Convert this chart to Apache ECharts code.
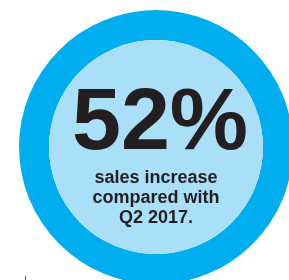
<!DOCTYPE html>
<html>
<head>
<meta charset="utf-8">
<script src="https://cdn.jsdelivr.net/npm/echarts@6/dist/echarts.min.js"></script>
<style>
html, body { margin: 0; padding: 0; background: #fff; }
#chart { width: 289px; height: 280px; }
</style>
</head>
<body>
<div id="chart"></div>
<script>
// headline figure and caption
var percent = [52];
var caption = ['sales increase', 'compared with', 'Q2 2017.'];

chart = echarts.init(document.getElementById('chart'));

var cx = 156, cy = 147;

var texts = [
    {
        type: 'text',
        z: 100,
        x: 160, y: 125,
        style: {
            text: percent[0] + '%',
            font: 'bold 88px "Liberation Sans", Arial, sans-serif',
            fill: '#231f20',
            align: 'center',
            verticalAlign: 'middle'
        }
    }
];
caption.forEach(function (line, i) {
    texts.push({
        type: 'text',
        z: 100,
        x: 156, y: 178 + i * 20,
        style: {
            text: line,
            font: 'bold 18px "Liberation Sans", Arial, sans-serif',
            fill: '#231f20',
            align: 'center',
            verticalAlign: 'middle'
        }
    });
});
texts.push({
    type: 'rect',
    z: 100,
    shape: { x: 25, y: 276, width: 1, height: 4 },
    style: { fill: '#555' }
});

chart.setOption({
    animation: false,
    series: [
        {
            type: 'pie',
            center: [cx, cy],
            radius: [107, 137],
            silent: true,
            z: 1,
            label: { show: false },
            itemStyle: { color: '#00aeef' },
            data: [{ value: percent[0] }]
        },
        {
            type: 'pie',
            center: [cx, cy],
            radius: [0, 107],
            silent: true,
            z: 1,
            label: { show: false },
            itemStyle: { color: '#aadff8' },
            data: [{ value: percent[0] }]
        }
    ],
    graphic: { elements: texts }
});
</script>
</body>
</html>
